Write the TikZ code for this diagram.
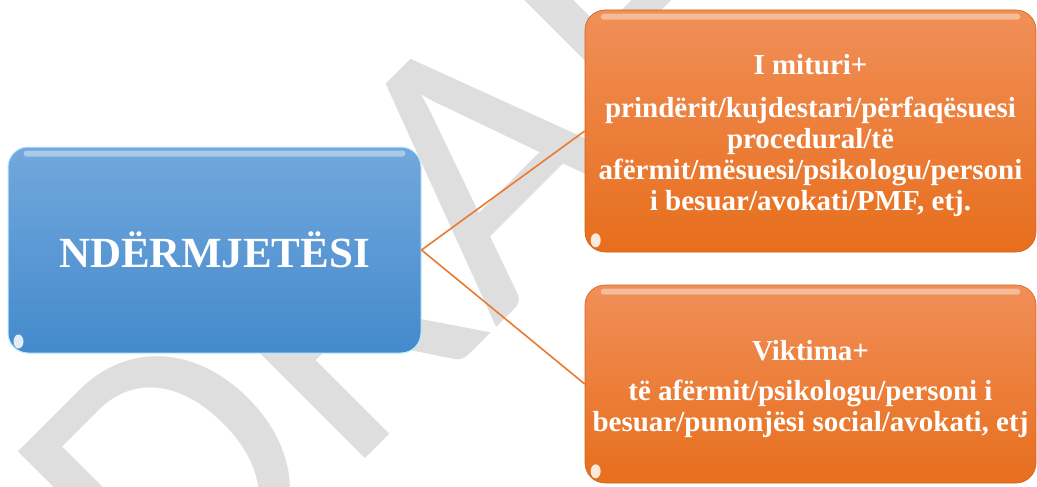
\documentclass[tikz,border=0pt]{standalone}
\usepackage{fontspec}
\setmainfont{Liberation Serif}
\newfontfamily\markfont{Carlito}
\usetikzlibrary{positioning}
\definecolor{blueTop}{RGB}{114,168,221}
\definecolor{blueBottom}{RGB}{68,138,204}
\definecolor{orangeTop}{RGB}{241,143,88}
\definecolor{orangeMid}{RGB}{244,126,50}
\definecolor{orangeBottom}{RGB}{231,110,28}
\definecolor{lineOrange}{RGB}{233,122,48}
\definecolor{markGray}{RGB}{222,222,222}

\begin{document}
\begin{tikzpicture}[x=1pt,y=-1pt,
	every node/.style={text=white,inner sep=0pt},
	main box/.style={rounded corners=20pt,align=center,font=\bfseries},
	blue box/.style={main box,draw=cyan!25!white,line width=1pt,
		top color=blueTop,bottom color=blueBottom,
		minimum width=413pt,minimum height=206pt,
		font=\bfseries\fontsize{43}{50}\selectfont},
	orange box/.style={main box,draw=orangeBottom!90!black,line width=.6pt,
		top color=orangeTop,middle color=orangeMid,bottom color=orangeBottom,
		minimum width=451pt,font=\bfseries\fontsize{29}{31}\selectfont},
	shine/.style={fill=white,opacity=.4,rounded corners=3pt},
	glint/.style={fill=white,opacity=.85},
	link/.style={draw=lineOrange,line width=1.6pt}]

\useasboundingbox (0,0) rectangle (1037,487);

% watermark
\node[font=\markfont\fontsize{390}{390}\selectfont,text=markGray,
	rotate=45,anchor=base west] (mark) at (176,648) {DRAFT};

% boxes
\node[blue box] (mid) at (214.5,250) {NDËRMJETËSI};
\node[orange box,minimum height=242pt] (minor) at (810.5,131)
	{\rule{0pt}{30pt}I mituri+\\[12pt]
	prindërit/kujdestari/përfaqësuesi\\
	procedural/të\\
	afërmit/mësuesi/psikologu/personi\\
	i besuar/avokati/PMF, etj.};
\node[orange box,minimum height=198pt] (victim) at (810.5,384)
	{\rule{0pt}{31pt}Viktima+\\[9pt]
	të afërmit/psikologu/personi i\\
	besuar/punonjësi social/avokati, etj};

% gloss
\foreach \b in {mid,minor,victim}{
	\fill[shine] ([xshift=16pt,yshift=-4pt]\b.north west) rectangle ([xshift=-16pt,yshift=-10pt]\b.north east);
	\fill[glint] ([xshift=11pt,yshift=12pt]\b.south west) ellipse (5pt and 7pt);
}

% links
\draw[link] (mid.east) -- (minor.west);
\draw[link] (mid.east) -- (victim.west);

\end{tikzpicture}
\end{document}
